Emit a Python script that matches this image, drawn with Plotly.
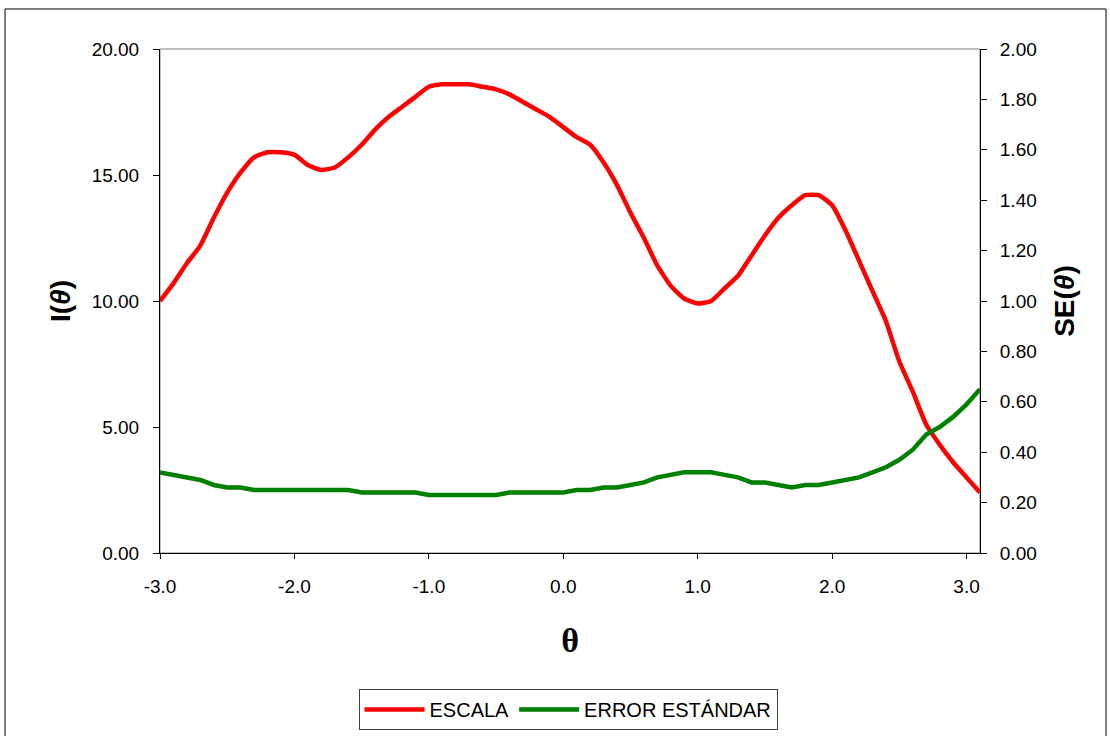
import plotly.graph_objects as go

# Ability scale points
theta = [-3.0, -2.9, -2.8, -2.7, -2.6, -2.5, -2.4, -2.3, -2.2, -2.1,
         -2.0, -1.9, -1.8, -1.7, -1.6, -1.5, -1.4, -1.3, -1.2, -1.1,
         -1.0, -0.9, -0.8, -0.7, -0.6, -0.5, -0.4, -0.3, -0.2, -0.1,
         0.0, 0.1, 0.2, 0.3, 0.4, 0.5, 0.6, 0.7, 0.8, 0.9,
         1.0, 1.1, 1.2, 1.3, 1.4, 1.5, 1.6, 1.7, 1.8, 1.9,
         2.0, 2.1, 2.2, 2.3, 2.4, 2.5, 2.6, 2.7, 2.8, 2.9,
         3.0, 3.1]

# Test information function I(theta)
escala = [10.0, 10.7, 11.5, 12.2, 13.3, 14.3, 15.1, 15.7, 15.9, 15.9,
          15.8, 15.4, 15.2, 15.3, 15.7, 16.2, 16.8, 17.3, 17.7, 18.1,
          18.5, 18.6, 18.6, 18.6, 18.5, 18.4, 18.2, 17.9, 17.6, 17.3,
          16.9, 16.5, 16.2, 15.5, 14.6, 13.5, 12.5, 11.4, 10.6, 10.1,
          9.9, 10.0, 10.5, 11.0, 11.8, 12.6, 13.3, 13.8, 14.2, 14.2,
          13.8, 12.8, 11.6, 10.4, 9.2, 7.6, 6.4, 5.1, 4.3, 3.6,
          3.0, 2.4]

# Standard error SE(theta)
error_estandar = [0.32, 0.31, 0.30, 0.29, 0.27, 0.26, 0.26, 0.25, 0.25, 0.25,
                  0.25, 0.25, 0.25, 0.25, 0.25, 0.24, 0.24, 0.24, 0.24, 0.24,
                  0.23, 0.23, 0.23, 0.23, 0.23, 0.23, 0.24, 0.24, 0.24, 0.24,
                  0.24, 0.25, 0.25, 0.26, 0.26, 0.27, 0.28, 0.30, 0.31, 0.32,
                  0.32, 0.32, 0.31, 0.30, 0.28, 0.28, 0.27, 0.26, 0.27, 0.27,
                  0.28, 0.29, 0.30, 0.32, 0.34, 0.37, 0.41, 0.47, 0.50, 0.54,
                  0.59, 0.65]

x_ticks = [-3.0, -2.0, -1.0, 0.0, 1.0, 2.0, 3.0]
x_labels = ["-3.0", "-2.0", "-1.0", "0.0", "1.0", "2.0", "3.0"]

FONT = "Liberation Sans, Arial, sans-serif"
TICK_FONT = dict(family=FONT, size=19, color="black")

fig = go.Figure()
fig.add_trace(go.Scatter(x=theta, y=escala, name="ESCALA", mode="lines",
                         line=dict(color="#ff0000", width=4.5, shape="spline", smoothing=0.5),
                         yaxis="y"))
fig.add_trace(go.Scatter(x=theta, y=error_estandar, name="ERROR ESTÁNDAR", mode="lines",
                         line=dict(color="#008000", width=4.5),
                         yaxis="y2"))

fig.update_layout(
    width=1110, height=736,
    margin=dict(l=160, r=130, t=49, b=183, autoexpand=False),
    paper_bgcolor="white", plot_bgcolor="white",
    font=dict(family=FONT, color="black"),
    showlegend=True,
    legend=dict(orientation="h", x=0.4976, xanchor="center", y=-0.27, yanchor="top",
                bordercolor="#404040", borderwidth=1, font=dict(family=FONT, size=20),
                itemwidth=60, bgcolor="white"),
    xaxis=dict(range=[-3.0, 3.1], tickvals=x_ticks, ticktext=x_labels,
               showgrid=False, zeroline=False, showline=True, linecolor="black", linewidth=1,
               ticks="outside", ticklen=5, tickcolor="black", tickfont=TICK_FONT,
               ticklabelstandoff=11,
               title=dict(text="<b>θ</b>", font=dict(family="Liberation Serif, Times New Roman, serif",
                                                      size=34), standoff=32)),
    xaxis2=dict(range=[-3.0, 3.1], tickvals=x_ticks, overlaying="x", anchor="y",
                showticklabels=False, showgrid=False, zeroline=False, showline=False,
                ticks="inside", ticklen=6, tickcolor="black"),
    yaxis=dict(range=[0, 20], dtick=5, tickformat=".2f",
               showgrid=False, zeroline=False, showline=True, linecolor="black", linewidth=1,
               ticks="outside", ticklen=6, tickcolor="black", tickfont=TICK_FONT,
               ticklabelstandoff=10,
               title=dict(text="<b>I(<i>θ</i>)</b>", font=dict(family=FONT, size=28), standoff=12)),
    yaxis2=dict(range=[0, 2], dtick=0.2, tickformat=".2f", overlaying="y", side="right",
                showgrid=False, zeroline=False, showline=True, linecolor="black", linewidth=1,
                ticks="outside", ticklen=6, tickcolor="black", tickfont=TICK_FONT,
                ticklabelstandoff=9,
                title=dict(text="<b>SE(<i>θ</i>)</b>", font=dict(family=FONT, size=28), standoff=18)),
    yaxis3=dict(range=[0, 2], dtick=0.2, overlaying="y", side="right", anchor="x",
                showticklabels=False, showgrid=False, zeroline=False, showline=False,
                ticks="inside", ticklen=6, tickcolor="black"),
    shapes=[
        # plot area frame
        dict(type="rect", xref="paper", yref="paper", x0=0, x1=1, y0=0, y1=1,
             line=dict(color="#808080", width=1), layer="below"),
        # chart area frame
        dict(type="rect", xref="paper", yref="paper", x0=-0.189, x1=1.1537, y0=-0.38, y1=1.0794,
             line=dict(color="black", width=1), layer="below"),
    ],
)

fig.write_html("out.html")
